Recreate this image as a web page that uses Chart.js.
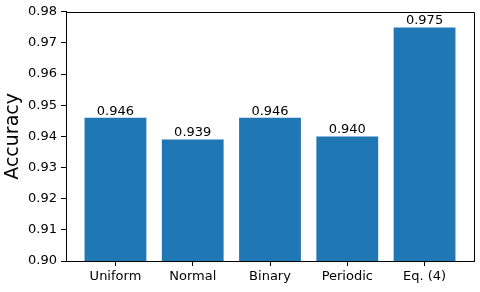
<!DOCTYPE html>
<html>
<head>
<meta charset="utf-8">
<script src="https://cdn.jsdelivr.net/npm/chart.js@4/dist/chart.umd.min.js"></script>
<style>
  html, body { margin: 0; padding: 0; background: #fff; }
</style>
</head>
<body>
<canvas id="chart" width="480" height="292"></canvas>
<script>
const categories = ['Uniform', 'Normal', 'Binary', 'Periodic', 'Eq. (4)'];
const accuracy = [0.946, 0.939, 0.946, 0.940, 0.975];
const yTicks = [0.90, 0.91, 0.92, 0.93, 0.94, 0.95, 0.96, 0.97, 0.98];

const font = { family: 'DejaVu Sans', size: 13 };

// top/right spines + value labels on bars
const extras = {
    id: 'extras',
    afterDatasetsDraw(chart) {
        const ctx = chart.ctx;
        const meta = chart.getDatasetMeta(0);
        ctx.save();
        ctx.fillStyle = '#000';
        ctx.font = '13px "DejaVu Sans"';
        ctx.textAlign = 'center';
        ctx.textBaseline = 'bottom';
        meta.data.forEach((bar, i) => {
            ctx.fillText(accuracy[i].toFixed(3), bar.x, bar.y);
        });
        const a = chart.chartArea;
        ctx.strokeStyle = '#000';
        ctx.lineWidth = 1;
        ctx.beginPath();
        ctx.moveTo(Math.round(a.left) + 0.5, Math.round(a.top) + 0.5);
        ctx.lineTo(Math.round(a.right) + 0.5, Math.round(a.top) + 0.5);
        ctx.lineTo(Math.round(a.right) + 0.5, Math.round(a.bottom) + 0.5);
        ctx.stroke();
        ctx.restore();
    }
};

new Chart(document.getElementById('chart').getContext('2d'), {
    type: 'bar',
    data: {
        datasets: [{
            data: accuracy.map((v, i) => ({ x: i, y: v })),
            backgroundColor: '#1f77b4',
            borderWidth: 0,
            categoryPercentage: 0.8,
            barPercentage: 1.0
        }]
    },
    options: {
        responsive: false,
        animation: false,
        layout: { padding: { left: 0, top: 9, right: 6, bottom: 0 } },
        plugins: { legend: { display: false }, tooltip: { enabled: false } },
        scales: {
            x: {
                type: 'linear',
                min: -0.64,
                max: 4.64,
                offset: false,
                afterBuildTicks: (axis) => { axis.ticks = categories.map((c, i) => ({ value: i })); },
                afterFit: (scale) => { scale.height = 31; },
                ticks: {
                    callback: (v) => categories[v],
                    font: font,
                    color: '#000',
                    padding: 3,
                    maxRotation: 0,
                    autoSkip: false
                },
                grid: { display: true, drawOnChartArea: false, offset: false, color: '#000', tickLength: 5, tickWidth: 1 },
                border: { display: true, color: '#000', width: 1 }
            },
            y: {
                min: 0.90,
                max: 0.98,
                afterBuildTicks: (axis) => { axis.ticks = yTicks.map(v => ({ value: v })); },
                afterFit: (scale) => { scale.width = 66; },
                ticks: {
                    callback: (v) => v.toFixed(2),
                    font: font,
                    color: '#000',
                    padding: 4
                },
                title: {
                    display: true,
                    text: 'Accuracy',
                    font: { family: 'DejaVu Sans', size: 19 },
                    color: '#000',
                    padding: { top: 2, bottom: 0 }
                },
                grid: { display: true, drawOnChartArea: false, color: '#000', tickLength: 5, tickWidth: 1 },
                border: { display: true, color: '#000', width: 1 }
            }
        }
    },
    plugins: [extras]
});
</script>
</body>
</html>
